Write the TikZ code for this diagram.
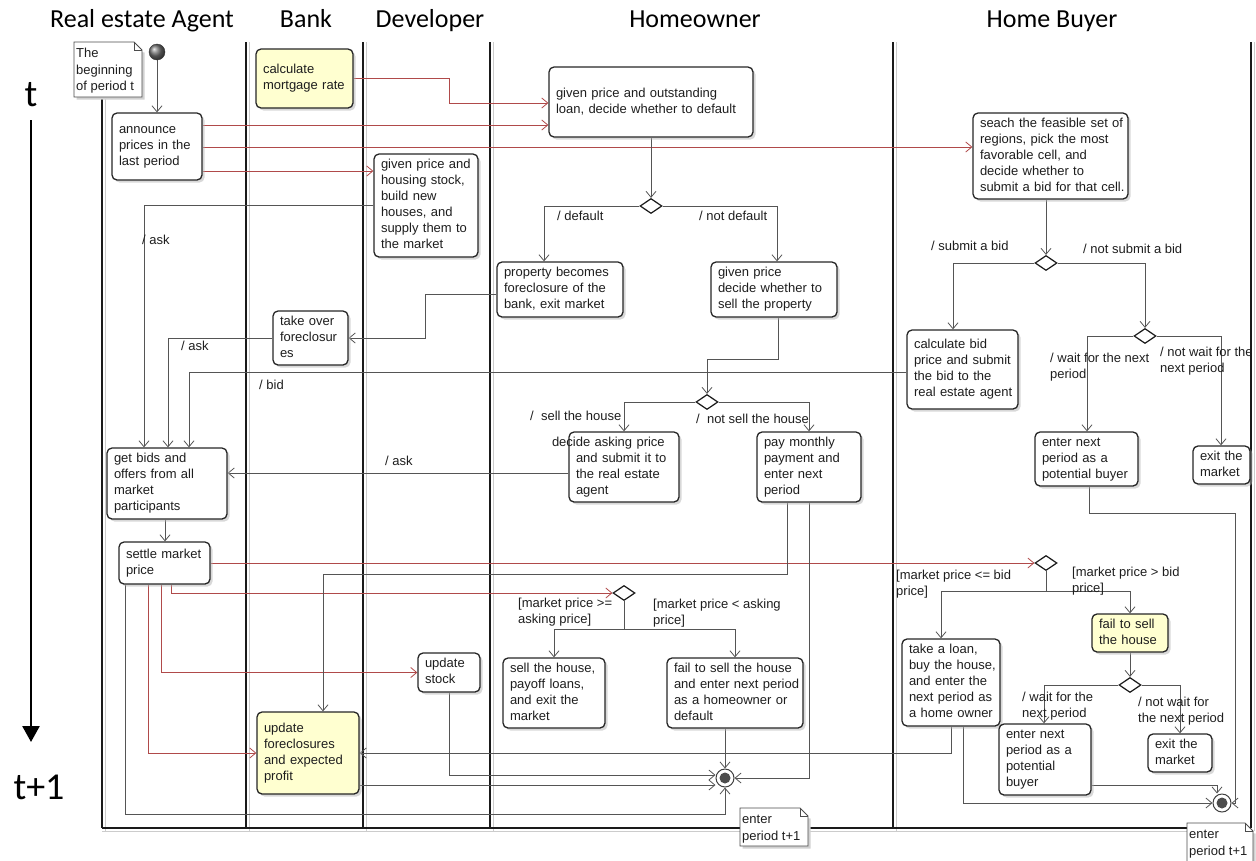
\documentclass[tikz,border=0pt]{standalone}
\usepackage{fontspec}
\setmainfont{Liberation Sans}
\newfontfamily\headfont{Carlito}
\usetikzlibrary{arrows.meta,shapes.geometric,shadows}

\definecolor{lane}{HTML}{1A1A1A}
\definecolor{conn}{HTML}{555555}
\definecolor{msg}{HTML}{B04A4A}
\definecolor{actfill}{HTML}{FFFFD0}
\definecolor{txt}{HTML}{1E1E1E}

\pgfdeclarelayer{back}
\pgfsetlayers{back,main}

\tikzset{
  actbox/.style={draw=black!85, line width=1.3pt, rounded corners=5pt, fill=white,
    align=left, inner xsep=7pt, inner ysep=2pt, font=\fontsize{13}{16}\selectfont, text=txt,
    drop shadow={shadow xshift=2.5pt, shadow yshift=-2.5pt, fill=black!30, opacity=0.5}},
  hilite/.style={fill=actfill},
  choice/.style={diamond, draw=black!90, line width=1.2pt, fill=white,
    minimum width=22pt, minimum height=15pt, inner sep=0pt},
  flow/.style={draw=conn, line width=0.8pt, -{Straight Barb[length=6pt,width=10pt]}},
  msgflow/.style={flow, draw=msg},
  guard/.style={font=\fontsize{13}{16}\selectfont, text=txt, align=left, inner sep=0pt, anchor=west},
  swim/.style={draw=lane, line width=1.6pt},
  swimshade/.style={draw=black!20, line width=1pt},
  lanehead/.style={font=\headfont\fontsize{26}{30}\selectfont, anchor=base},
  timelabel/.style={font=\headfont\fontsize{38}{40}\selectfont},
  notepath/.style={draw=black!70, line width=0.8pt, fill=white},
  notetext/.style={font=\fontsize{13}{16.5}\selectfont, text=txt, inner sep=0pt},
  finalnode/.style={circle, minimum size=18pt, inner sep=0pt, draw=black!75, line width=1pt, fill=white,
    path picture={\fill[black!70] (path picture bounding box.center) circle (5.5pt);}},
  startnode/.style={circle, minimum size=16pt, inner sep=0pt, draw=black!80, ball color=black!55},
}

% activity box from its corner coordinates: [style]{name}{x1}{y1}{x2}{y2}{lines}
\newcommand\abox[7][]{%
  \pgfmathsetmacro\abW{#5-#3}%
  \pgfmathsetmacro\abH{#6-#4}%
  \pgfmathsetmacro\abX{(#3+#5)/2}%
  \pgfmathsetmacro\abY{(#4+#6)/2}%
  \pgfmathsetmacro\abT{#5-#3-14}%
  \node[actbox,minimum width=\abW pt,minimum height=\abH pt,text width=\abT pt,#1] (#2) at (\abX,\abY)
    {\begin{tabular}{@{}l@{}}#7\end{tabular}};}

% note with a folded corner: {name}{x1}{y1}{x2}{y2}{lines}
\newcommand\anote[6]{%
  \fill[black!18] (#2+2.5,#3+2.5) -- (#4+2.5,#3+10.5) -- (#4+2.5,#5+2.5) -- (#2+2.5,#5+2.5) -- cycle;
  \draw[notepath] (#2,#3) -- (#4-8,#3) -- (#4,#3+8) -- (#4,#5) -- (#2,#5) -- cycle;
  \draw[notepath, fill=none] (#4-8,#3) -- (#4-8,#3+8) -- (#4,#3+8);
  \node[notetext, anchor=north west] (#1) at (#2+2,#3+4)
    {\begin{tabular}{@{}l@{}}#6\end{tabular}};}

\begin{document}
\begin{tikzpicture}[x=1pt,y=-1pt]
\useasboundingbox (0,0) rectangle (1256,860);

% lane titles
\node[lanehead] (hAgent) at (142,27) {Real estate Agent};
\node[lanehead] (hBank) at (306,27) {Bank};
\node[lanehead] (hDev) at (430,27) {Developer};
\node[lanehead] (hOwner) at (695,27) {Homeowner};
\node[lanehead] (hBuyer) at (1052,27) {Home Buyer};

% time axis
\node[timelabel] (tNow) at (31,95) {t};
\node[timelabel] (tNext) at (39,787) {t+1};
\draw[line width=2.6pt, -{Triangle[length=16pt,width=17pt]}] (tNow.south |- 0,120) -- (tNow.south |- 0,742);

% notes
\anote{noteStart}{74}{42}{142}{97}{The\\beginning\\of period t}

% start
\node[startnode] (start) at (157,52) {};

% Real estate agent
\abox{announce}{112}{113}{202}{180}{announce\\prices in the\\last period}
\abox{gather}{107}{448}{227}{519}{get bids and\\offers from all\\market\\participants}
\abox{settle}{119}{542}{210}{584}{settle market\\price}

% Bank
\abox[hilite]{rate}{256}{49}{353}{108}{calculate\\mortgage rate}
\abox{takeover}{273}{311}{348}{365}{take over\\foreclosur\\es}
\abox[hilite]{profit}{257}{712}{359}{794}{update\\foreclosures\\and expected\\profit}

% Developer
\abox{build}{374}{154}{478}{257}{given price and\\housing stock,\\build new\\houses, and\\supply them to\\the market}
\abox{stock}{418}{653}{480}{692}{update\\stock}

% Homeowner
\abox{hdef}{549}{67}{753}{137}{given price and outstanding\\loan, decide whether to default}
\node[choice] (d1) at (651,206) {};
\abox{fore}{497}{262}{623}{317}{property becomes\\foreclosure of the\\bank, exit market}
\abox{sellq}{711}{262}{837}{317}{given price\\decide whether to\\sell the property}
\node[choice] (d3) at (707,402) {};
\abox{ask}{569}{432}{679}{502}{\hspace*{-24pt}decide asking price\\and submit it to\\the real estate\\agent}
\abox{keep}{757}{432}{861}{502}{pay monthly\\payment and\\enter next\\period}
\node[choice] (d6) at (624,593) {};
\abox{sold}{503}{658}{605}{728}{sell the house,\\payoff loans,\\and exit the\\market}
\abox{unsold}{667}{658}{803}{728}{fail to sell the house\\and enter next period\\as a homeowner or\\default}
\node[finalnode] (fin1) at (725,778) {};

% Home buyer
\abox{search}{973}{113}{1128}{199}{seach the feasible set of\\regions, pick the most\\favorable cell, and\\decide whether to\\submit a bid for that cell.}
\node[choice] (d2) at (1046,263) {};
\abox{bid}{907}{330}{1018}{409}{calculate bid\\price and submit\\the bid to the\\real estate agent}
\node[choice] (d4) at (1145,336) {};
\abox{waitA}{1035}{432}{1138}{486}{enter next\\period as a\\potential buyer}
\abox{exitA}{1193}{446}{1250}{484}{exit the\\market}
\node[choice] (d5) at (1046,563) {};
\abox{loan}{902}{639}{1000}{726}{take a loan,\\buy the house,\\and enter the\\next period as\\a home owner}
\abox[hilite]{nosale}{1092}{614}{1168}{652}{fail to sell\\the house}
\node[choice] (d7) at (1130,685) {};
\abox{waitB}{999}{724}{1091}{795}{enter next\\period as a\\potential\\buyer}
\abox{exitB}{1148}{734}{1212}{772}{exit the\\market}
\node[finalnode] (fin2) at (1222,803) {};

% guards and message labels
\node[guard] (gAskDev) at (142,240) {/ ask};
\node[guard] (gAskBank) at (181,346) {/ ask};
\node[guard] (gBid) at (259,385) {/ bid};
\node[guard] (gAskOwner) at (385,461) {/ ask};
\node[guard] (gDefault) at (557,216) {/ default};
\node[guard] (gNoDefault) at (699,216) {/ not default};
\node[guard] (gSell) at (530,416) {/~~sell the house};
\node[guard] (gNoSell) at (696,419) {/~~not sell the house};
\node[guard] (gSubmit) at (931,246) {/ submit a bid};
\node[guard] (gNoSubmit) at (1083,249) {/ not submit a bid};
\node[guard] (gWaitA) at (1050,367) {/ wait for the next\\period};
\node[guard] (gNoWaitA) at (1160,361) {/ not wait for the\\next period};
\node[guard] (gBuy) at (896,584) {[market price <= bid\\price]};
\node[guard] (gNoBuy) at (1072,581) {[market price > bid\\price]};
\node[guard] (gWaitB) at (1022,706) {/ wait for the\\next period};
\node[guard] (gNoWaitB) at (1138,711) {/ not wait for\\the next period};
\node[guard] (gSale) at (518,612) {[market price >=\\asking price]};
\node[guard] (gNoSaleO) at (653,613) {[market price < asking\\price]};

% notes at the end of the period
\anote{noteEndA}{740}{808}{808}{846}{enter\\period t+1}

\begin{pgfonlayer}{back}
  % swimlanes
  \foreach \lx in {102,246,363,490,893,1251} {
    \draw[swimshade] (\lx+3,42) -- (\lx+3,831);
    \draw[swim] (\lx,42) -- (\lx,828);
  }
  \draw[swimshade] (102,831) -- (1254,831);
  \draw[swim] (102,828) -- (1251,828);

  % agent
  \draw[flow] (start.south) -- (announce.north);
  \draw[msgflow] (announce.east |- 0,125) -- (hdef.west |- 0,125);
  \draw[msgflow] (announce.east |- 0,147) -- (search.west |- 0,147);
  \draw[msgflow] (announce.east |- 0,171) -- (build.west |- 0,171);
  \draw[msgflow] (rate.east) -| (449,103) -- (hdef.west |- 0,103);
  \draw[flow] (build.west |- 0,205) -| (gather.north -| 144,0);
  \draw[flow] (fore.west |- 0,294) -| (425,338) -- (takeover.east);
  \draw[flow] (takeover.west) -| (gather.north -| 168,0);
  \draw[flow] (bid.west |- 0,372) -| (gather.north -| 189,0);
  \draw[flow] (ask.west |- 0,473) -- (gather.east |- 0,473);
  \draw[flow] (gather.south -| 165,0) -- (settle.north -| 165,0);

  % market outcome messages
  \draw[msgflow] (settle.east) -- (d5.west);
  \draw[msgflow] (settle.south -| 171,0) |- (d6.west);
  \draw[msgflow] (settle.south -| 161,0) |- (stock.west);
  \draw[msgflow] (settle.south -| 148,0) |- (profit.west);
  \draw[flow] (settle.south -| 125,0) |- (725,814) -- (fin1.south);

  % homeowner
  \draw[flow] (hdef.south) -- (d1.north);
  \draw[flow] (d1.west) -| (fore.north -| 544,0);
  \draw[flow] (d1.east) -| (sellq.north -| 777,0);
  \draw[flow] (sellq.south -| 778,0) |- (707,359) -- (d3.north);
  \draw[flow] (d3.west) -| (ask.north -| 624,0);
  \draw[flow] (d3.east) -| (keep.north -| 809,0);
  \draw[flow] (keep.south -| 787,0) |- (323,574) -- (profit.north -| 323,0);
  \draw[flow] (keep.south -| 809,0) |- (fin1.east);
  \draw[flow] (d6.south) |- (554,629) -- (sold.north -| 554,0);
  \draw[flow] (d6.south) |- (735,629) -- (unsold.north -| 735,0);
  \draw[flow] (unsold.south -| 725,0) -- (fin1.north);
  \draw[flow] (stock.south -| 449,0) |- (fin1.west |- 0,775);
  \draw[flow] (profit.east |- 0,785) -- (fin1.west |- 0,785);

  % home buyer
  \draw[flow] (search.south -| d2.north) -- (d2.north);
  \draw[flow] (d2.west) -| (bid.north -| 953,0);
  \draw[flow] (d2.east) -| (d4.north);
  \draw[flow] (d4.west) -| (waitA.north -| 1087,0);
  \draw[flow] (d4.east) -| (exitA.north -| 1221,0);
  \draw[flow] (waitA.south -| 1089,0) |- (1235,513) |- (fin2.east);
  \draw[flow] (d5.south) |- (941,591) -- (loan.north -| 941,0);
  \draw[flow] (d5.south) |- (1130,591) -- (nosale.north);
  \draw[flow] (nosale.south) -- (d7.north);
  \draw[flow] (d7.west) -| (waitB.north -| 1044,0);
  \draw[flow] (d7.east) -| (exitB.north -| 1180,0);
  \draw[flow] (loan.south -| 951,0) |- (profit.east);
  \draw[flow] (loan.south -| 963,0) |- (fin2.west);
  \draw[flow] (waitB.east |- 0,785) -| (fin2.north -| 1217,0);
\end{pgfonlayer}

\anote{noteEndB}{1187}{823}{1253}{866}{enter\\period t+1}
\end{tikzpicture}
\end{document}
